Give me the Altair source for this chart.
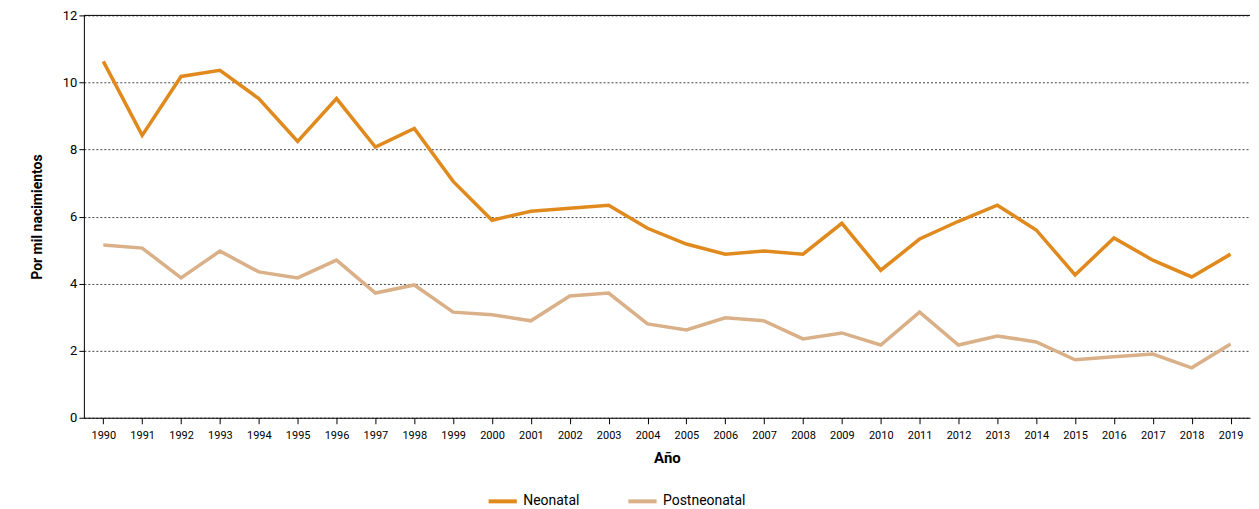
import altair as alt
import pandas as pd

years = list(range(1990, 2020))
neonatal = [10.63, 8.42, 10.18, 10.36, 9.52, 8.24, 9.52, 8.07, 8.63, 7.05, 5.89, 6.16, 6.25, 6.34, 5.65,
            5.18, 4.88, 4.97, 4.88, 5.80, 4.40, 5.33, 5.86, 6.34, 5.60, 4.26, 5.36, 4.70, 4.20, 4.88]
postneonatal = [5.15, 5.06, 4.17, 4.97, 4.35, 4.17, 4.70, 3.72, 3.96, 3.15, 3.07, 2.89, 3.63, 3.72, 2.80,
                2.62, 2.98, 2.89, 2.35, 2.53, 2.17, 3.15, 2.17, 2.44, 2.26, 1.73, 1.82, 1.90, 1.49, 2.20]

rows = []
for y, a, b in zip(years, neonatal, postneonatal):
    rows.append({"Año": str(y), "v": a, "s": "Neonatal"})
    rows.append({"Año": str(y), "v": b, "s": "Postneonatal"})
df = pd.DataFrame(rows)

font = "Roboto"
base = alt.Chart(df)
lines = base.mark_line(strokeWidth=3.5).encode(
    x=alt.X("Año:O", scale=alt.Scale(paddingOuter=0.4),
            axis=alt.Axis(labelAngle=0, labelFontSize=11, titleFontSize=15, titleFontWeight="bold",
                          tickSize=6, domainColor="black", tickColor="black", labelPadding=6, titlePadding=10)),
    y=alt.Y("v:Q", title="Por mil nacimientos", scale=alt.Scale(domain=[0, 12]),
            axis=alt.Axis(values=[0, 2, 4, 6, 8, 10, 12], gridDash=[2, 2], gridColor="#444",
                          domainColor="black", tickColor="black", labelFontSize=13,
                          titleFontSize=14, titleFontWeight="bold", tickSize=5, titlePadding=18)),
    color=alt.Color("s:N", title=None,
                    scale=alt.Scale(domain=["Neonatal", "Postneonatal"], range=["#E08A1E", "#D9B088"]),
                    legend=alt.Legend(orient="none", legendX=403, legendY=470, direction="horizontal",
                                      symbolType="stroke", symbolStrokeWidth=4,
                                      symbolSize=800, labelFontSize=14, columnPadding=40)),
)
top = alt.Chart(pd.DataFrame({"v": [12]})).mark_rule(color="black", strokeWidth=1).encode(y="v:Q")

chart = alt.layer(lines, top).properties(
    width=1168, height=403,
    padding={"left": 22, "top": 1, "right": 0, "bottom": 0},
).configure(font=font).configure_view(stroke=None).configure_axis(grid=True).configure_axisX(grid=False)

chart.save("out.html", embed_options={"renderer": "svg", "actions": False})
